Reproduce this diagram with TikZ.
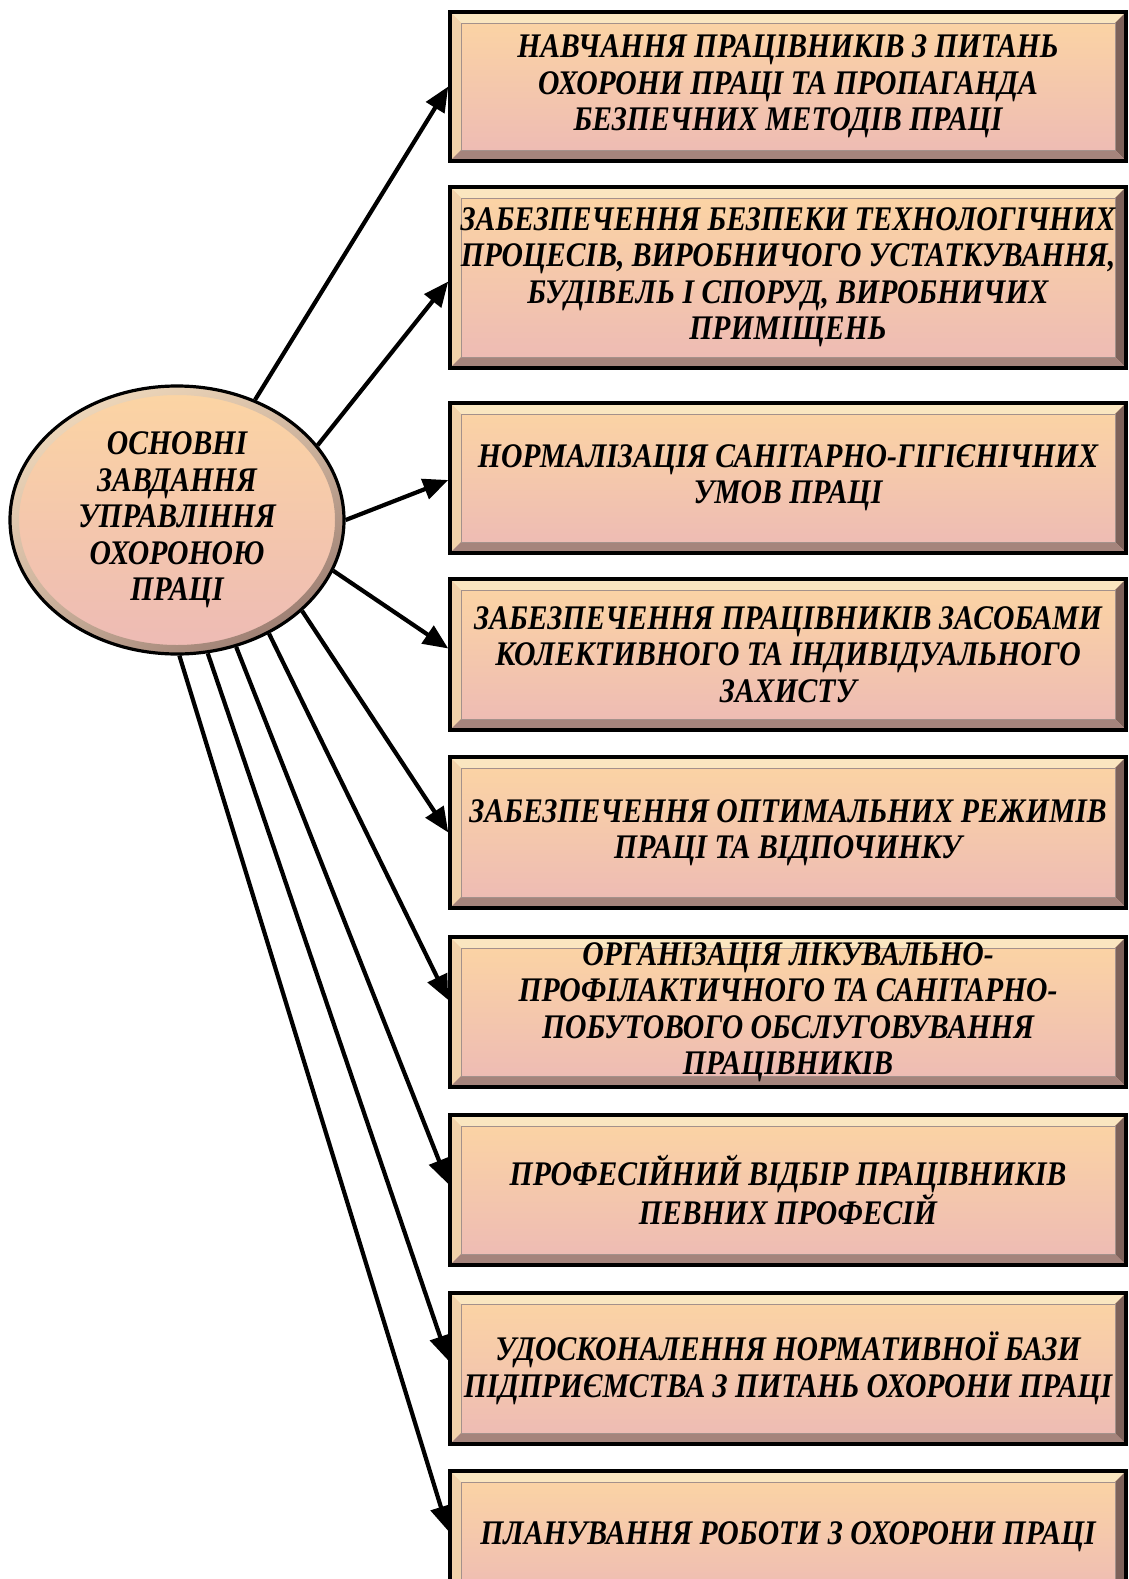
\documentclass[tikz,border=0pt]{standalone}
\usepackage{fontspec}
\setmainfont{Liberation Serif}[FakeStretch=0.86]
\usetikzlibrary{arrows.meta,shapes.geometric,shadings}
\definecolor{topc}{RGB}{252,213,163}
\definecolor{botc}{RGB}{237,186,181}
\definecolor{bevtop}{RGB}{250,230,192}
\definecolor{bevleft}{RGB}{242,210,170}
\definecolor{bevright}{RGB}{125,98,90}
\definecolor{bevbot}{RGB}{165,132,124}
\definecolor{ringlight}{RGB}{248,226,195}
\definecolor{ringdark}{RGB}{140,108,100}
\tikzset{
  txt/.style={font=\bfseries\itshape\fontsize{34.5}{36.5}\selectfont, align=center},
  tbox/.style={txt, draw=black, line width=3.5pt, minimum width=676pt,
    minimum height=#1, inner sep=0pt, top color=topc, bottom color=botc,
    path picture={
      \coordinate (pNW) at (path picture bounding box.north west);
      \coordinate (pNE) at (path picture bounding box.north east);
      \coordinate (pSW) at (path picture bounding box.south west);
      \coordinate (pSE) at (path picture bounding box.south east);
      \fill[bevtop] (pNW) -- (pNE) -- ([shift={(-11pt,-11pt)}]pNE) -- ([shift={(11pt,-11pt)}]pNW) -- cycle;
      \fill[bevleft] (pNW) -- ([shift={(11pt,-11pt)}]pNW) -- ([shift={(11pt,11pt)}]pSW) -- (pSW) -- cycle;
      \fill[bevright] (pNE) -- ([shift={(-11pt,-11pt)}]pNE) -- ([shift={(-11pt,11pt)}]pSE) -- (pSE) -- cycle;
      \fill[bevbot] (pSW) -- ([shift={(11pt,11pt)}]pSW) -- ([shift={(-11pt,11pt)}]pSE) -- (pSE) -- cycle;
      \draw[line width=0.8pt, bevright!70] ([shift={(11pt,-11pt)}]pNW) rectangle ([shift={(-11pt,11pt)}]pSE);
    }},
  ell/.style={txt, ellipse, draw=black, line width=3.2pt, minimum width=334pt,
    minimum height=268pt, inner sep=0pt, top color=topc, bottom color=botc,
    path picture={
      \coordinate (pC) at (path picture bounding box.center);
      \shade[even odd rule, upper left=ringlight, upper right=ringlight!70!ringdark,
        lower left=ringlight!55!ringdark, lower right=ringdark]
        (pC) ellipse [x radius=166pt, y radius=133pt]
        (pC) ellipse [x radius=158pt, y radius=125pt];
    }},
  conn/.style={line width=4.2pt, -{Triangle[length=25pt,width=21pt]}}
}
\begin{document}
\begin{tikzpicture}[x=1pt,y=-1pt]
\useasboundingbox (0,0) rectangle (1128,1579);
\fill[white] (0,0) rectangle (1128,1579);

\node[tbox=149pt] (b1) at (788,86.5) {НАВЧАННЯ ПРАЦІВНИКІВ З ПИТАНЬ\\ОХОРОНИ ПРАЦІ ТА ПРОПАГАНДА\\БЕЗПЕЧНИХ МЕТОДІВ ПРАЦІ};
\node[tbox=181pt] (b2) at (788,277.5) {ЗАБЕЗПЕЧЕННЯ БЕЗПЕКИ ТЕХНОЛОГІЧНИХ\\ПРОЦЕСІВ, ВИРОБНИЧОГО УСТАТКУВАННЯ,\\БУДІВЕЛЬ І СПОРУД, ВИРОБНИЧИХ\\ПРИМІЩЕНЬ};
\node[tbox=150pt] (b3) at (788,478) {НОРМАЛІЗАЦІЯ САНІТАРНО-ГІГІЄНІЧНИХ\\УМОВ ПРАЦІ};
\node[tbox=151pt] (b4) at (788,654.5) {ЗАБЕЗПЕЧЕННЯ ПРАЦІВНИКІВ ЗАСОБАМИ\\КОЛЕКТИВНОГО ТА ІНДИВІДУАЛЬНОГО\\ЗАХИСТУ};
\node[tbox=151pt] (b5) at (788,832.5) {ЗАБЕЗПЕЧЕННЯ ОПТИМАЛЬНИХ РЕЖИМІВ\\ПРАЦІ ТА ВІДПОЧИНКУ};
\node[tbox=150pt] (b6) at (788,1012) {ОРГАНІЗАЦІЯ ЛІКУВАЛЬНО-\\ПРОФІЛАКТИЧНОГО ТА САНІТАРНО-\\ПОБУТОВОГО ОБСЛУГОВУВАННЯ\\ПРАЦІВНИКІВ};
\node[tbox=150pt] (b7) at (788,1190) {ПРОФЕСІЙНИЙ ВІДБІР ПРАЦІВНИКІВ\\ПЕВНИХ ПРОФЕСІЙ};
\node[tbox=151pt] (b8) at (788,1368.5) {УДОСКОНАЛЕННЯ НОРМАТИВНОЇ БАЗИ\\ПІДПРИЄМСТВА З ПИТАНЬ ОХОРОНИ ПРАЦІ};
\node[tbox=132pt] (b9) at (788,1537) {ПЛАНУВАННЯ РОБОТИ З ОХОРОНИ ПРАЦІ};

\node[ell] (e) at (177,520) {ОСНОВНІ\\ЗАВДАННЯ\\УПРАВЛІННЯ\\ОХОРОНОЮ\\ПРАЦІ};

\draw[conn] (e.57) -- (b1.west);
\draw[conn] (e.28.5) -- ([yshift=-4pt]b2.west);
\draw[conn] (e.0) -- ([yshift=-2pt]b3.west);
\draw[conn] (e.-18.8) -- ([yshift=6pt]b4.west);
\draw[conn] (e.-36.5) -- (b5.west);
\draw[conn] (e.-51.2) -- ([yshift=12pt]b6.west);
\draw[conn] (e.-65) -- ([yshift=6pt]b7.west);
\draw[conn] (e.-77.4) -- ([yshift=8pt]b8.west);
\draw[conn] (e.-89.6) -- ([yshift=6pt]b9.west);
\end{tikzpicture}
\end{document}
